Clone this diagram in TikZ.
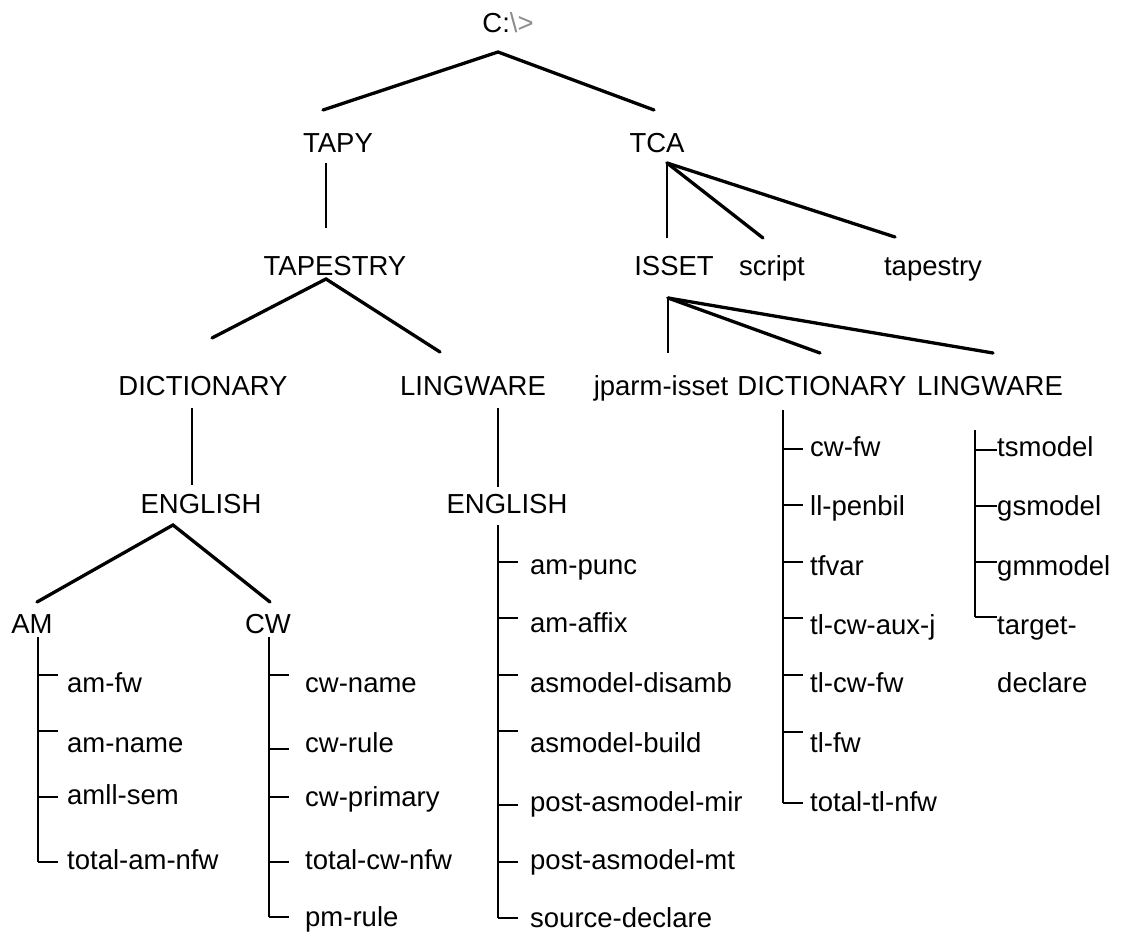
\documentclass[tikz,border=0pt]{standalone}
\usepackage{fontspec}
\setmainfont{Liberation Sans}
\begin{document}
\begin{tikzpicture}[x=1pt,y=-1pt,
  lbl/.style={inner sep=0pt, anchor=base, font=\fontsize{27.5}{33}\selectfont},
  item/.style={inner sep=0pt, anchor=base west, font=\fontsize{27.5}{33}\selectfont},
  branch/.style={line width=3.3pt, line cap=round},
  stem/.style={line width=2.8pt},
  tickline/.style={line width=2.5pt}]
\useasboundingbox (0,0) rectangle (1131,933);

% ---------- headings ----------
\node[lbl] (root) at (508,33) {C:{\color{black!45}\textbackslash>}};
\node[lbl] (tapy) at (338,153) {TAPY};
\node[lbl] (tca) at (657,153) {TCA};
\node[lbl] (tapestry) at (335,275) {TAPESTRY};
\node[lbl] (isset) at (674,275) {ISSET};
\node[lbl] (script) at (772,275) {script};
\node[lbl] (tapes) at (933,275) {tapestry};
\node[lbl] (dictL) at (203,395) {DICTIONARY};
\node[lbl] (lingL) at (473,395) {LINGWARE};
\node[lbl] (jparm) at (661,395) {jparm-isset};
\node[lbl] (dictR) at (822,395) {DICTIONARY};
\node[lbl] (lingR) at (990,395) {LINGWARE};
\node[lbl] (engL) at (201,513) {ENGLISH};
\node[lbl] (engR) at (507,513) {ENGLISH};
\node[lbl] (am) at (32,633) {AM};
\node[lbl] (cw) at (268,633) {CW};

% ---------- branch coordinates ----------
\coordinate (root-a) at (498,52);
\coordinate (tapy-e) at (323,110);
\coordinate (tca-e) at (654,110);
\coordinate (tapy-a) at (326,163);
\coordinate (tapestry-e) at (326,228);
\coordinate (tapestry-a) at (326,279);
\coordinate (dictL-e) at (212,338);
\coordinate (lingL-e) at (440,352);
\coordinate (tca-a) at (667,163);
\coordinate (isset-e) at (667,238);
\coordinate (script-e) at (763,238);
\coordinate (tapes-e) at (895,237);
\coordinate (isset-a) at (668,298);
\coordinate (jparm-e) at (668,353);
\coordinate (dictR-e) at (820,353);
\coordinate (lingR-e) at (993,353);
\coordinate (dictL-a) at (192,408);
\coordinate (engL-e) at (192,485);
\coordinate (lingL-a) at (498,408);
\coordinate (engR-e) at (498,487);
\coordinate (engL-a) at (173,525);
\coordinate (am-e) at (37,602);
\coordinate (cw-e) at (270,602);

\draw[branch] (tapy-e) -- (root-a) -- (tca-e);
\draw[stem] (tapy-a) -- (tapestry-e);
\draw[branch] (dictL-e) -- (tapestry-a) -- (lingL-e);
\draw[stem] (tca-a) -- (isset-e);
\draw[branch] (tca-a) -- (script-e);
\draw[branch] (tca-a) -- (tapes-e);
\draw[stem] (isset-a) -- (jparm-e);
\draw[branch] (isset-a) -- (dictR-e);
\draw[branch] (isset-a) -- (lingR-e);
\draw[stem] (dictL-a) -- (engL-e);
\draw[stem] (lingL-a) -- (engR-e);
\draw[branch] (am-e) -- (engL-a) -- (cw-e);

% ---------- AM list ----------
\coordinate (amv) at (38,637);
\foreach \lab/\ty/\by [count=\i] in {am-fw/675/692, am-name/731/752, amll-sem/797/804, total-am-nfw/862/869} {
  \node[item] (am\i) at (67,\by) {\lab};
  \coordinate (amt\i) at (38,\ty);
  \draw[tickline] (amt\i) -- ++(20,0);
}
\draw[stem] (amv) -- (amt4);

% ---------- CW list ----------
\coordinate (cwv) at (269,637);
\foreach \lab/\ty/\by [count=\i] in {cw-name/675/692, cw-rule/749/752, cw-primary/797/806, total-cw-nfw/862/869, pm-rule/917/926} {
  \node[item] (cw\i) at (305,\by) {\lab};
  \coordinate (cwt\i) at (269,\ty);
  \draw[tickline] (cwt\i) -- ++(20,0);
}
\draw[stem] (cwv) -- (cwt5);

% ---------- ENGLISH (right) list ----------
\coordinate (erv) at (498,525);
\foreach \lab/\ty/\by [count=\i] in {am-punc/562/574, am-affix/618/632, asmodel-disamb/675/692, asmodel-build/731/752, post-asmodel-mir/805/811, post-asmodel-mt/862/869, source-declare/918/927} {
  \node[item] (er\i) at (530,\by) {\lab};
  \coordinate (ert\i) at (498,\ty);
  \draw[tickline] (ert\i) -- ++(20,0);
}
\draw[stem] (erv) -- (ert7);

% ---------- DICTIONARY (right) list ----------
\coordinate (drv) at (783,410);
\foreach \lab/\ty/\by [count=\i] in {cw-fw/449/456, ll-penbil/505/515, tfvar/562/575, tl-cw-aux-j/618/634, tl-cw-fw/675/692, tl-fw/732/752, total-tl-nfw/803/811} {
  \node[item] (dr\i) at (810,\by) {\lab};
  \coordinate (drt\i) at (783,\ty);
  \draw[tickline] (drt\i) -- ++(20,0);
}
\draw[stem] (drv) -- (drt7);

% ---------- LINGWARE (right) list ----------
\coordinate (lrv) at (975,430);
\foreach \lab/\ty/\by [count=\i] in {tsmodel/450/456, gsmodel/506/515, gmmodel/562/575, target-/617/634} {
  \node[item] (lr\i) at (997,\by) {\lab};
  \coordinate (lrt\i) at (975,\ty);
  \draw[tickline] (lrt\i) -- ++(22,0);
}
\node[item] (lr5) at (997,692) {declare};
\draw[stem] (lrv) -- (lrt4);
\end{tikzpicture}
\end{document}
